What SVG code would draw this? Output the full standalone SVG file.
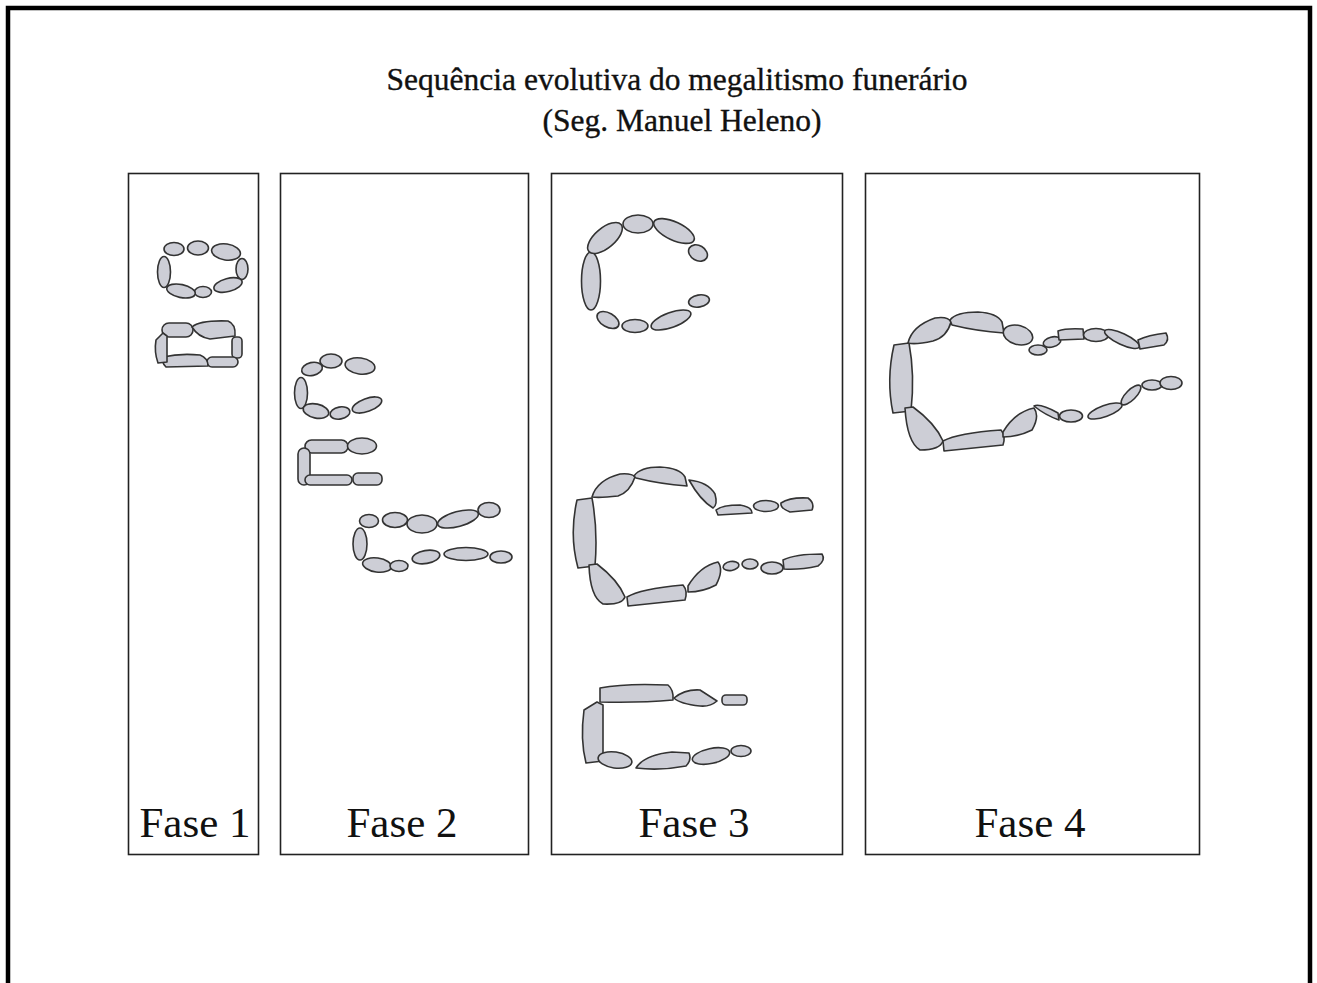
<svg xmlns="http://www.w3.org/2000/svg" width="1317" height="983" viewBox="0 0 1317 983">
<style>
  .frame{fill:none;stroke:#000;stroke-width:4.5}
  .panel{fill:#fff;stroke:#222;stroke-width:1.6}
  .s{fill:#cdced6;stroke:#333;stroke-width:1.6;stroke-linejoin:round}
  .title{font-family:"Liberation Serif",serif;font-size:31.5px;fill:#111;stroke:#111;stroke-width:0.35;text-anchor:middle}
  .lbl{font-family:"Liberation Serif",serif;font-size:43px;fill:#111;text-anchor:middle}
</style>
<rect width="1317" height="983" fill="#fff"/>
<rect class="frame" x="8" y="8" width="1302" height="1010"/>

<g id="title">
  <text class="title" x="677" y="90">Sequência evolutiva do megalitismo funerário</text>
  <text class="title" x="682" y="131">(Seg. Manuel Heleno)</text>
</g>

<g id="fase1">
  <rect class="panel" x="128.5" y="173.5" width="130" height="681"/>
  <!-- oval chamber -->
  <ellipse class="s" cx="174" cy="249" rx="10" ry="6.5"/>
  <ellipse class="s" cx="198" cy="248" rx="10.5" ry="7"/>
  <ellipse class="s" cx="226" cy="252" rx="14.5" ry="8" transform="rotate(8 226 252)"/>
  <ellipse class="s" cx="242" cy="269" rx="6" ry="10.5"/>
  <ellipse class="s" cx="228" cy="285" rx="14.5" ry="6.5" transform="rotate(-15 228 285)"/>
  <ellipse class="s" cx="203" cy="292" rx="8.5" ry="5.5"/>
  <ellipse class="s" cx="181" cy="291" rx="14.5" ry="6.5" transform="rotate(12 181 291)"/>
  <ellipse class="s" cx="164" cy="272" rx="6.5" ry="15.5"/>
  <!-- rectangular chamber -->
  <rect class="s" x="162" y="323" width="31" height="14" rx="7"/>
  <path class="s" d="M192,327 Q200,320 228,321 Q236,324 235,336 L210,339 Q198,337 192,327 Z"/>
  <rect class="s" x="232" y="337" width="10" height="21" rx="4"/>
  <rect class="s" x="207" y="357" width="31" height="10" rx="5"/>
  <path class="s" d="M163,357 Q180,353 200,355 Q208,358 208,366 L166,367 Q161,362 163,357 Z"/>
  <path class="s" d="M156,340 L163,333 L167,336 L167,362 L158,363 Q154,352 156,340 Z"/>
</g>

<g id="fase2">
  <rect class="panel" x="280.5" y="173.5" width="248" height="681"/>
  <!-- C shape -->
  <ellipse class="s" cx="312" cy="369" rx="10.5" ry="6.5" transform="rotate(-12 312 369)"/>
  <ellipse class="s" cx="331" cy="361" rx="11" ry="7"/>
  <ellipse class="s" cx="360" cy="366" rx="15" ry="8" transform="rotate(8 360 366)"/>
  <ellipse class="s" cx="301" cy="393" rx="6.5" ry="15.5"/>
  <ellipse class="s" cx="316" cy="411" rx="13" ry="7" transform="rotate(12 316 411)"/>
  <ellipse class="s" cx="340" cy="413" rx="10" ry="6" transform="rotate(-10 340 413)"/>
  <ellipse class="s" cx="367" cy="405" rx="15.5" ry="6.5" transform="rotate(-20 367 405)"/>
  <!-- E shape -->
  <rect class="s" x="305" y="440" width="43" height="13" rx="6.5"/>
  <ellipse class="s" cx="362" cy="446" rx="14.5" ry="8"/>
  <rect class="s" x="298" y="448" width="12" height="37" rx="6"/>
  <rect class="s" x="305" y="475" width="47" height="10" rx="5"/>
  <rect class="s" x="353" y="473" width="29" height="12" rx="5"/>
  <!-- elongated C -->
  <ellipse class="s" cx="369" cy="521" rx="9.5" ry="6.5"/>
  <ellipse class="s" cx="395" cy="520" rx="12.5" ry="7.5"/>
  <ellipse class="s" cx="422" cy="524" rx="15" ry="9"/>
  <ellipse class="s" cx="458" cy="519" rx="21" ry="7.5" transform="rotate(-15 458 519)"/>
  <ellipse class="s" cx="489" cy="510" rx="11" ry="7.5"/>
  <ellipse class="s" cx="360" cy="544" rx="7" ry="16"/>
  <ellipse class="s" cx="377" cy="565" rx="14.5" ry="7" transform="rotate(8 377 565)"/>
  <ellipse class="s" cx="399" cy="566" rx="9" ry="5.5"/>
  <ellipse class="s" cx="426" cy="557" rx="14" ry="6.5" transform="rotate(-10 426 557)"/>
  <ellipse class="s" cx="466" cy="554" rx="22" ry="6.5"/>
  <ellipse class="s" cx="501" cy="557" rx="11" ry="6"/>
</g>

<g id="fase3">
  <rect class="panel" x="551.5" y="173.5" width="291" height="681"/>
  <!-- C chamber -->
  <ellipse class="s" cx="591" cy="281" rx="9.5" ry="29"/>
  <ellipse class="s" cx="605" cy="238" rx="21" ry="10" transform="rotate(-40 605 238)"/>
  <ellipse class="s" cx="638" cy="224" rx="15" ry="9"/>
  <ellipse class="s" cx="674" cy="231" rx="22" ry="9" transform="rotate(25 674 231)"/>
  <ellipse class="s" cx="698" cy="253" rx="10" ry="7.5" transform="rotate(30 698 253)"/>
  <ellipse class="s" cx="699" cy="301" rx="10.5" ry="6" transform="rotate(-10 699 301)"/>
  <ellipse class="s" cx="671" cy="320" rx="21" ry="7.5" transform="rotate(-20 671 320)"/>
  <ellipse class="s" cx="635" cy="326" rx="13" ry="6.5"/>
  <ellipse class="s" cx="608" cy="320" rx="12" ry="7" transform="rotate(30 608 320)"/>
  <!-- chamber with corridor -->
  <path class="s" d="M577,500 L592,498 Q598,530 595,566 L578,568 Q569,535 577,500 Z"/>
  <path class="s" d="M592,497 Q597,480 620,474 Q632,473 635,477 Q630,492 618,496 Q600,498 592,497 Z"/>
  <path class="s" d="M634,476 Q640,467 660,467 Q680,468 685,477 L687,486 Q660,484 636,478 Z"/>
  <path class="s" d="M689,480 Q708,482 715,494 Q718,505 713,508 Q700,500 689,480 Z"/>
  <path class="s" d="M716,510 Q722,505 740,505 Q752,507 752,513 L718,515 Z"/>
  <ellipse class="s" cx="766" cy="506" rx="12.5" ry="5.5"/>
  <path class="s" d="M781,503 Q790,497 808,498 Q815,503 812,510 L790,512 Q780,508 781,503 Z"/>
  <path class="s" d="M589,565 L597,564 Q618,580 625,597 Q622,605 603,604 Q590,597 589,565 Z"/>
  <path class="s" d="M627,597 Q640,589 683,585 Q688,591 685,600 L628,606 Z"/>
  <path class="s" d="M688,586 Q700,566 718,562 Q724,570 716,585 Q703,592 688,592 Z"/>
  <ellipse class="s" cx="731" cy="566" rx="8" ry="4.5" transform="rotate(-10 731 566)"/>
  <ellipse class="s" cx="750" cy="564" rx="8" ry="5"/>
  <ellipse class="s" cx="772" cy="568" rx="11" ry="6"/>
  <path class="s" d="M783,560 Q795,554 822,554 Q826,560 818,566 Q800,570 784,569 Z"/>
  <!-- short passage grave -->
  <path class="s" d="M600,688 Q625,683 668,685 Q674,690 673,700 Q640,703 600,702 Z"/>
  <path class="s" d="M674,698 Q685,689 700,690 L717,701 Q710,707 700,706 Q680,704 674,698 Z"/>
  <rect class="s" x="722" y="695" width="25" height="10" rx="4"/>
  <path class="s" d="M584,710 L597,702 L603,705 L603,761 L586,763 Q580,740 584,710 Z"/>
  <ellipse class="s" cx="615" cy="760" rx="17" ry="8" transform="rotate(8 615 760)"/>
  <path class="s" d="M636,768 Q644,755 672,752 L689,753 Q692,760 686,766 Q660,771 636,768 Z"/>
  <ellipse class="s" cx="711" cy="756" rx="19" ry="7.5" transform="rotate(-12 711 756)"/>
  <ellipse class="s" cx="741" cy="751" rx="10" ry="5.5"/>
</g>

<g id="fase4">
  <rect class="panel" x="865.5" y="173.5" width="334" height="681"/>
  <path class="s" d="M894,345 L909,343 Q915,375 911,411 L893,413 Q886,380 894,345 Z"/>
  <path class="s" d="M908,343 Q912,326 935,318 Q948,316 951,322 Q947,337 933,341 Q915,345 908,343 Z"/>
  <path class="s" d="M950,320 Q956,312 978,312 Q997,313 1002,322 L1004,333 Q976,331 952,325 Z"/>
  <ellipse class="s" cx="1018" cy="335" rx="15" ry="9.5" transform="rotate(15 1018 335)"/>
  <ellipse class="s" cx="1038" cy="350" rx="9" ry="5"/>
  <ellipse class="s" cx="1052" cy="342" rx="9" ry="5" transform="rotate(-15 1052 342)"/>
  <path class="s" d="M1058,331 Q1066,328 1083,329 L1084,339 L1059,340 Z"/>
  <ellipse class="s" cx="1096" cy="335" rx="12.5" ry="6.5"/>
  <ellipse class="s" cx="1122" cy="339" rx="19" ry="5.5" transform="rotate(25 1122 339)"/>
  <path class="s" d="M1138,340 Q1148,335 1166,333 Q1170,340 1164,345 L1140,349 Z"/>
  <path class="s" d="M905,408 L913,407 Q935,423 943,441 Q940,450 920,450 Q907,442 905,408 Z"/>
  <path class="s" d="M943,441 Q958,433 1001,430 Q1006,436 1003,445 L944,451 Z"/>
  <path class="s" d="M1003,432 Q1015,412 1034,408 Q1040,416 1032,430 Q1018,437 1003,437 Z"/>
  <path class="s" d="M1034,406 Q1040,403 1058,413 L1059,420 Q1045,415 1034,406 Z"/>
  <ellipse class="s" cx="1071" cy="416" rx="11.5" ry="6"/>
  <ellipse class="s" cx="1105" cy="411" rx="18" ry="5.5" transform="rotate(-20 1105 411)"/>
  <ellipse class="s" cx="1131" cy="395" rx="13" ry="5" transform="rotate(-45 1131 395)"/>
  <ellipse class="s" cx="1152" cy="385" rx="10" ry="5"/>
  <ellipse class="s" cx="1171" cy="383" rx="11" ry="6.5"/>
</g>

<g id="labels">
  <text class="lbl" x="195" y="837">Fase 1</text>
  <text class="lbl" x="402" y="837">Fase 2</text>
  <text class="lbl" x="694" y="837">Fase 3</text>
  <text class="lbl" x="1030" y="837">Fase 4</text>
</g>
</svg>
